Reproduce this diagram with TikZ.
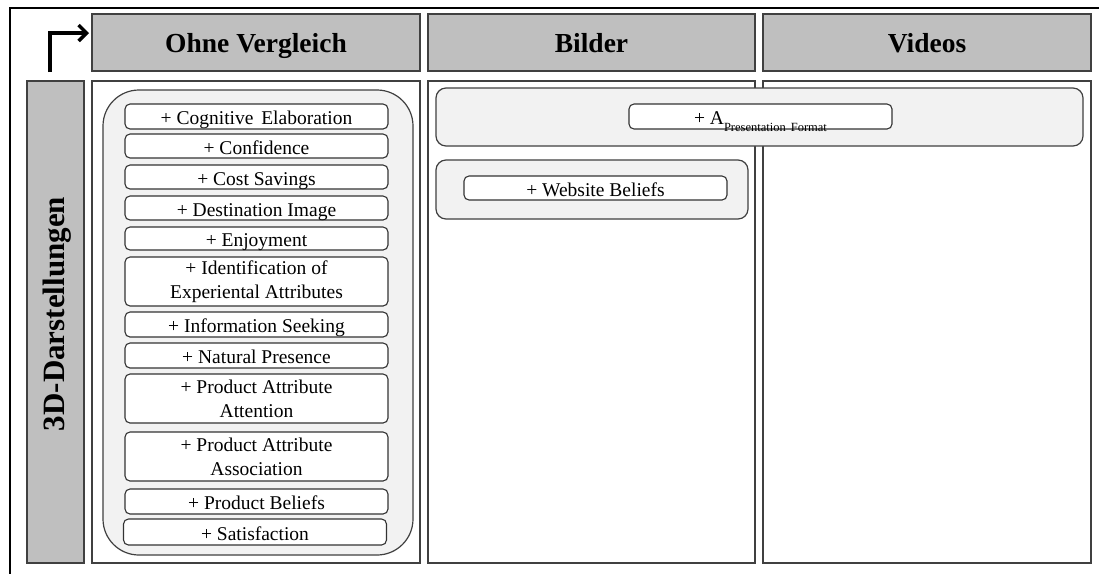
\documentclass[tikz,border=0pt]{standalone}
\usepackage{fontspec}
\setmainfont{Liberation Serif}
\usetikzlibrary{positioning,arrows.meta}

\begin{document}
\begin{tikzpicture}[x=1pt,y=-1pt,
  head/.style={draw=black!75,line width=1.2pt,fill=gray!50,inner sep=0pt,outer sep=0pt,
    minimum height=57pt,text height=20pt,text depth=0pt,font=\fontsize{27.5}{30}\selectfont\bfseries},
  cell/.style={draw=black!75,line width=1.2pt,fill=white,inner sep=0pt,outer sep=0pt,minimum height=482pt},
  group/.style={draw=black!75,line width=1.2pt,fill=gray!10,inner sep=0pt,outer sep=0pt,rounded corners=10pt},
  item/.style={draw=black!80,line width=1.1pt,fill=white,rounded corners=5pt,inner sep=0pt,outer sep=0pt,
    minimum width=263pt,align=center,font=\fontsize{19.5}{24}\selectfont},
  oneline/.style={text height=16pt,text depth=0pt}]

\useasboundingbox (0,0) rectangle (1099,574);

% Outer frame
\draw[line width=1.2pt] (1099,8) -- (10,8) -- (10,574);

% Column headers
\node[head,minimum width=328pt] (hOhne) at (256,42.5) {Ohne Vergleich};
\node[head,minimum width=327pt] (hBilder) at (591.5,42.5) {Bilder};
\node[head,minimum width=328pt] (hVideos) at (927,42.5) {Videos};

% Row header
\node[head,minimum width=57pt,minimum height=482pt] (rDarst) at (55.5,322) {};
\node[rotate=90,font=\fontsize{31}{34}\selectfont\bfseries] (rLabel) at (57,314) {3D-Darstellungen};

% Cells
\node[cell,minimum width=328pt] (cOhne) at (256,322) {};
\node[cell,minimum width=327pt] (cBilder) at (591.5,322) {};
\node[cell,minimum width=328pt] (cVideos) at (927,322) {};

% Corner arrow
\coordinate (aStart) at (50,72);
\coordinate (aBend) at (50,33);
\draw[line width=3.5pt,-{Straight Barb[length=8pt,width=16pt]}] (aStart) -- (aBend) -- ([xshift=-3pt]hOhne.west |- aBend);

% Groups
\node[group,rounded corners=36pt,minimum width=310pt,minimum height=465pt] (gOhne) at (258,322.5) {};
\node[group,minimum width=647pt,minimum height=58pt] (gFormat) at (759.5,117) {};
\node[group,minimum width=312pt,minimum height=59pt] (gWeb) at (592,189.5) {};

% Items, Ohne Vergleich
\node[item,oneline,minimum height=25pt] (i1) at (256.5,116.5) {+ Cognitive\hspace{0.4em}Elaboration};
\node[item,oneline,minimum height=24pt] (i2) at (256.5,146) {+ Confidence};
\node[item,oneline,minimum height=24pt] (i3) at (256.5,177) {+ Cost Savings};
\node[item,oneline,minimum height=24pt] (i4) at (256.5,208) {+ Destination Image};
\node[item,oneline,minimum height=23pt] (i5) at (256.5,238.5) {+ Enjoyment};
\node[item,minimum height=49pt] (i6) at (256.5,281.5) {+ Identification of\\Experiental Attributes};
\node[item,oneline,minimum height=25pt] (i7) at (256.5,324.5) {+ Information Seeking};
\node[item,oneline,minimum height=25pt] (i8) at (256.5,355.5) {+ Natural Presence};
\node[item,minimum height=49pt] (i9) at (256.5,398.5) {+ Product Attribute\\Attention};
\node[item,minimum height=49pt] (i10) at (256.5,456.5) {+ Product Attribute\\Association};
\node[item,oneline,minimum height=25pt] (i11) at (256.5,501.5) {+ Product Beliefs};
\node[item,oneline,minimum height=26pt] (i12) at (255,532) {+ Satisfaction};

% Items, Bilder and Videos
\node[item,oneline,minimum height=25pt] (iFormat) at (760.5,116.5)
  {+ A\raisebox{-7pt}{\fontsize{12.5}{12.5}\selectfont Presentation\hspace{0.4em}Format}};
\node[item,oneline,minimum height=24pt] (iWeb) at (595.5,188) {+ Website Beliefs};

\end{tikzpicture}
\end{document}
